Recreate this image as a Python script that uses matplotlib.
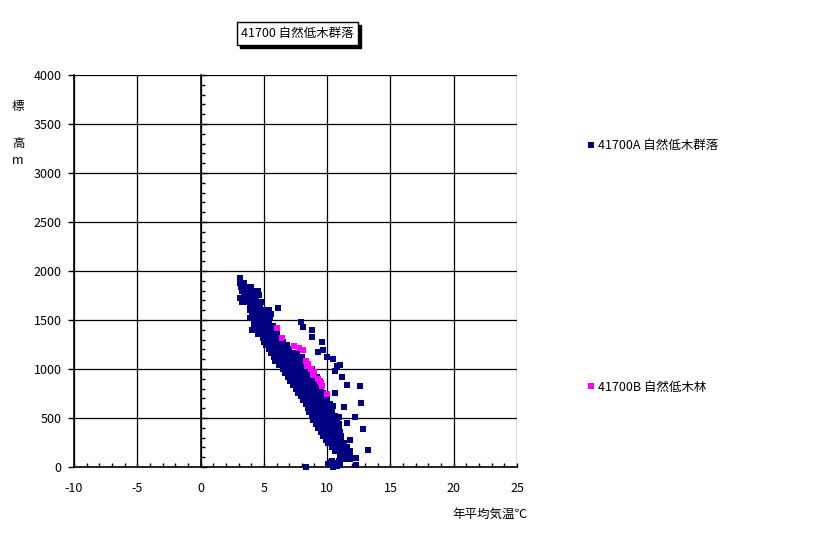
import numpy as np
import matplotlib
matplotlib.use("Agg")
import matplotlib.pyplot as plt
from matplotlib.lines import Line2D
from matplotlib.patches import Rectangle
from matplotlib.ticker import MultipleLocator

plt.rcParams['font.family'] = ['Noto Sans CJK JP', 'DejaVu Sans']
plt.rcParams['axes.unicode_minus'] = False

TITLE = "41700 自然低木群落"
LABEL_A = "41700A 自然低木群落"
LABEL_B = "41700B 自然低木林"
X_LABEL = "年平均気温℃"
Y_LABEL = ["標", "高", "m"]

# series A: dense band, one row per elevation (m) -> temperatures (deg C)
a_rows = [
    (1930, [3.1]),
    (1880, [3.1, 3.4]),
    (1840, [3.2, 3.6, 4.0]),
    (1800, [3.3, 3.7, 4.1, 4.5]),
    (1760, [3.4, 3.8, 4.2, 4.6]),
    (1720, [3.1, 3.6, 4.0, 4.4]),
    (1680, [3.3, 3.7, 4.1, 4.5, 4.8]),
    (1640, [3.9, 4.3, 4.7]),
    (1600, [3.9, 4.3, 4.7, 5.1, 5.4]),
    (1560, [4.1, 4.5, 4.9, 5.3, 5.6]),
    (1520, [3.9, 4.3, 4.7, 5.1, 5.5]),
    (1480, [4.2, 4.6, 5.0, 5.4]),
    (1440, [4.2, 4.6, 5.0, 5.4, 5.7]),
    (1400, [4.1, 4.5, 4.9, 5.3, 5.7, 5.9]),
    (1360, [4.5, 4.9, 5.3, 5.7, 6.0]),
    (1320, [4.9, 5.3, 5.7, 6.1]),
    (1280, [5.0, 5.4, 5.8, 6.2, 6.5]),
    (1240, [5.2, 5.6, 6.0, 6.4, 6.8]),
    (1200, [5.4, 5.8, 6.2, 6.6, 7.0]),
    (1160, [5.6, 6.0, 6.4, 6.8, 7.2, 7.6]),
    (1120, [5.8, 6.2, 6.6, 7.0, 7.4, 7.8, 8.0]),
    (1080, [5.9, 6.3, 6.7, 7.1, 7.5, 7.9, 8.2]),
    (1040, [6.2, 6.6, 7.0, 7.4, 7.8, 8.2, 8.5]),
    (1000, [6.5, 6.9, 7.3, 7.7, 8.1, 8.5, 8.8]),
    (960, [6.7, 7.1, 7.5, 7.9, 8.3, 8.7, 9.0]),
    (920, [6.9, 7.3, 7.7, 8.1, 8.5, 8.9, 9.2]),
    (880, [7.1, 7.5, 7.9, 8.3, 8.7, 9.1, 9.3]),
    (840, [7.3, 7.7, 8.1, 8.5, 8.9, 9.3, 9.5]),
    (800, [7.5, 7.9, 8.3, 8.7, 9.1, 9.5]),
    (760, [7.7, 8.1, 8.5, 8.9, 9.3, 9.7]),
    (720, [7.9, 8.3, 8.7, 9.1, 9.5, 9.9]),
    (680, [8.1, 8.5, 8.9, 9.3, 9.7, 10.0]),
    (640, [8.3, 8.7, 9.1, 9.5, 9.9, 10.2]),
    (600, [8.5, 8.9, 9.3, 9.7, 10.1, 10.3]),
    (560, [8.6, 9.0, 9.4, 9.8, 10.2, 10.4]),
    (520, [8.8, 9.2, 9.6, 10.0, 10.4, 10.6]),
    (480, [8.9, 9.3, 9.7, 10.1, 10.5, 10.8]),
    (440, [9.1, 9.5, 9.9, 10.3, 10.7, 10.9]),
    (400, [9.3, 9.7, 10.1, 10.5, 10.9]),
    (360, [9.5, 9.9, 10.3, 10.7, 11.0]),
    (320, [9.7, 10.1, 10.5, 10.9, 11.1]),
    (280, [9.9, 10.3, 10.7, 11.1]),
    (240, [10.1, 10.5, 10.9, 11.3]),
    (200, [10.4, 10.8, 11.2, 11.6]),
    (160, [10.6, 11.0, 11.4, 11.8]),
    (120, [11.0, 11.4, 11.8]),
    (80, [11.4, 11.8]),
]

# series A: scattered points away from the band
a_out_temp = [6.1, 7.9, 8.1, 8.8, 8.8, 9.6, 9.3, 9.7, 10.0, 10.5, 10.8, 11.0,
              10.6, 11.2, 11.6, 12.6, 10.6, 10.5, 11.3, 12.7, 10.9, 12.2, 11.6,
              12.8, 11.8, 13.2, 12.3, 12.3, 8.3, 10.1, 10.4, 10.7, 10.9, 10.5,
              10.8, 10.2, 11.0]
a_out_elev = [1620, 1480, 1430, 1400, 1330, 1280, 1175, 1195, 1120, 1100, 1030, 1040,
              980, 920, 835, 825, 755, 620, 610, 655, 510, 510, 450,
              390, 275, 175, 90, 20, 0, 30, 60, 40, 60, 5,
              10, 55, 25]

# series B
b_temp = [6.0, 6.4, 7.4, 7.8, 8.1, 8.3, 8.5, 8.4, 8.7, 9.0, 8.9, 9.3, 9.5, 9.6, 9.4, 10.0]
b_elev = [1420, 1315, 1235, 1210, 1195, 1080, 1050, 1030, 1000, 970, 940, 900, 860, 830, 880, 745]

a_temp = [t for e, ts in a_rows for t in ts] + a_out_temp
a_elev = [e for e, ts in a_rows for t in ts] + a_out_elev

NAVY = '#000080'
PINK = '#FF00FF'

fig = plt.figure(figsize=(8.16, 5.34), dpi=100)
ax = fig.add_axes([74 / 816, 1 - 467 / 534, 443 / 816, 392 / 534])

ax.plot(a_temp, a_elev, 's', color=NAVY, ms=4.8, mew=0, clip_on=False, zorder=3)
ax.plot(b_temp, b_elev, 's', color=PINK, ms=4.8, mew=0, clip_on=False, zorder=4)

ax.set_xlim(-10, 25)
ax.set_ylim(0, 4000)
ax.xaxis.set_major_locator(MultipleLocator(5))
ax.xaxis.set_minor_locator(MultipleLocator(1))
ax.yaxis.set_major_locator(MultipleLocator(500))
ax.yaxis.set_minor_locator(MultipleLocator(100))
ax.grid(True, which='major', color='black', linewidth=0.9)
ax.set_axisbelow(True)

# vertical axis line crossing at x = 0
ax.spines['right'].set_position(('data', 0))
ax.spines['top'].set_visible(False)
for s in ['left', 'bottom', 'right']:
    ax.spines[s].set_linewidth(1.2)

ax.tick_params(axis='y', which='major', left=True, right=True, direction='out',
               length=4, width=1, labelsize=9, pad=5)
ax.tick_params(axis='y', which='minor', left=False, right=True, direction='out',
               length=3, width=1)
ax.tick_params(axis='x', which='both', direction='in', top=False, length=3, width=1)
ax.tick_params(axis='x', which='major', labelsize=9, pad=11)

# title in a box with a drop shadow
bx, by, bw, bh = 237, 22, 121, 23
fig.patches.append(Rectangle(((bx + 3) / 816, 1 - (by + bh + 3) / 534), bw / 816, bh / 534,
                             transform=fig.transFigure, fc='black', ec='black', lw=1))
fig.patches.append(Rectangle((bx / 816, 1 - (by + bh) / 534), bw / 816, bh / 534,
                             transform=fig.transFigure, fc='white', ec='black', lw=1))
fig.text((bx + bw / 2) / 816, 1 - (by + bh / 2) / 534, TITLE, ha='center', va='center',
         fontsize=9, color='black')

fig.text(527 / 816, 1 - 514 / 534, X_LABEL, ha='right', va='center', fontsize=9)
for ch, y in zip(Y_LABEL, [107, 144, 160]):
    fig.text(18 / 816, 1 - y / 534, ch, ha='center', va='center', fontsize=9)

for lab, col, y in [(LABEL_A, NAVY, 146), (LABEL_B, PINK, 387)]:
    h = Line2D([], [], marker='s', ls='none', color=col, ms=4, mew=0)
    fig.legend(handles=[h], labels=[lab], loc='center left',
               bbox_to_anchor=(586 / 816, 1 - y / 534), frameon=False,
               fontsize=9, handlelength=0.8, handletextpad=0.2,
               borderpad=0, borderaxespad=0)

fig.savefig('out.png', dpi=100)
